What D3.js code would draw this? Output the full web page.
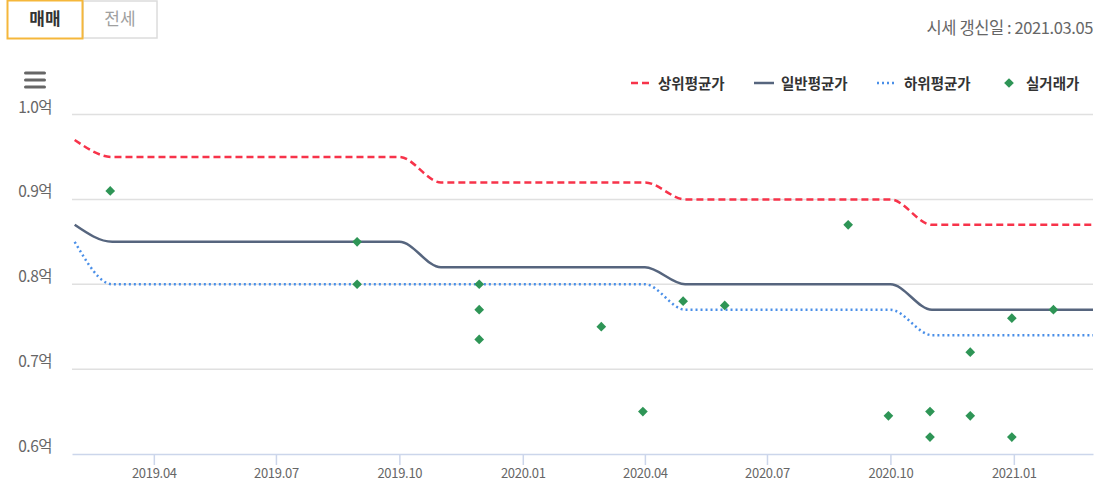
<!DOCTYPE html>
<html><head><meta charset="utf-8">
<script src="https://cdn.jsdelivr.net/npm/d3@7"></script>
<style>
html,body{margin:0;padding:0;background:#fff;}
svg{display:block;font-family:"Noto Sans CJK KR","Noto Sans",sans-serif;}
</style></head>
<body><svg id="c" width="1099" height="498"></svg>
<script>
// ---- data ----
const months = ["2019-02","2019-03","2019-04","2019-05","2019-06","2019-07","2019-08","2019-09","2019-10","2019-11","2019-12",
"2020-01","2020-02","2020-03","2020-04","2020-05","2020-06","2020-07","2020-08","2020-09","2020-10","2020-11","2020-12",
"2021-01","2021-02","2021-03"];
const upperAvg = [0.97,0.95,0.95,0.95,0.95,0.95,0.95,0.95,0.95,0.92,0.92,0.92,0.92,0.92,0.92,0.90,0.90,0.90,0.90,0.90,0.90,0.87,0.87,0.87,0.87,0.87];
const normalAvg = [0.87,0.85,0.85,0.85,0.85,0.85,0.85,0.85,0.85,0.82,0.82,0.82,0.82,0.82,0.82,0.80,0.80,0.80,0.80,0.80,0.80,0.77,0.77,0.77,0.77,0.77];
const lowerAvg = [0.85,0.80,0.80,0.80,0.80,0.80,0.80,0.80,0.80,0.80,0.80,0.80,0.80,0.80,0.80,0.77,0.77,0.77,0.77,0.77,0.77,0.74,0.74,0.74,0.74,0.74];
const tradeDates = ["2019-03","2019-09","2019-09","2019-12","2019-12","2019-12","2020-03","2020-04","2020-05","2020-06","2020-09","2020-10","2020-11","2020-11","2020-12","2020-12","2021-01","2021-01","2021-02"];
const tradeValues = [0.91,0.85,0.80,0.80,0.77,0.735,0.75,0.65,0.78,0.775,0.87,0.645,0.65,0.62,0.72,0.645,0.76,0.62,0.77];
const yTicks = [0.6,0.7,0.8,0.9,1.0];
const xTicks = ["2019-04","2019-07","2019-10","2020-01","2020-04","2020-07","2020-10","2021-01"];
const legendNames = ["상위평균가","일반평균가","하위평균가","실거래가"];
const tabs = ["매매","전세"];
const updateText = "시세 갱신일 : 2021.03.05";

// ---- setup ----
const parse = d3.timeParse("%Y-%m");
const svg = d3.select("#c");
const x = d3.scaleTime().domain([new Date(2019,0,30), new Date(2021,2,1)]).range([72,1093]);
const y = d3.scaleLinear().domain([0.6,1.0]).range([454,114.5]);

// tabs
const tabG = svg.append("g");
tabG.append("rect").attr("x",83).attr("y",1).attr("width",74).attr("height",37).attr("fill","#fff").attr("stroke","#dcdcdc").attr("stroke-width",1.5);
tabG.append("rect").attr("x",7.5).attr("y",0.5).attr("width",75).attr("height",38).attr("fill","#fff").attr("stroke","#f5b73b").attr("stroke-width",2);
tabG.append("text").attr("x",45).attr("y",25).attr("text-anchor","middle").attr("font-size",17).attr("font-weight","bold").attr("fill","#333").text(tabs[0]);
tabG.append("text").attr("x",120).attr("y",25).attr("text-anchor","middle").attr("font-size",17).attr("fill","#a0a0a0").text(tabs[1]);

svg.append("text").attr("x",1093).attr("y",34).attr("text-anchor","end").attr("font-size",16.5).attr("fill","#666").attr("letter-spacing","-0.4").text(updateText);

// hamburger
[73,80,87].forEach(yy=>svg.append("rect").attr("x",24).attr("y",yy-1.5).attr("width",22).attr("height",3).attr("rx",1.5).attr("fill","#666"));

// grid
svg.append("g").selectAll("line").data(yTicks.filter(d=>d>0.6)).join("line")
  .attr("x1",72).attr("x2",1093).attr("y1",d=>y(d)).attr("y2",d=>y(d))
  .attr("stroke","#e0e0e0").attr("stroke-width",1.5);

// y labels
svg.append("g").selectAll("text").data(yTicks).join("text")
  .attr("x",52).attr("y",d=>y(d)-2).attr("text-anchor","end").attr("font-size",15.5).attr("fill","#666")
  .attr("letter-spacing","-0.5")
  .text(d=>d.toFixed(1)+"억");

// x axis
const xa = svg.append("g").attr("transform","translate(0,454)")
  .call(d3.axisBottom(x).tickValues(xTicks.map(parse)).tickFormat(d3.timeFormat("%Y.%m")).tickSize(11).tickSizeOuter(0));
xa.select(".domain").attr("stroke","#ccd6eb").attr("stroke-width",1.5);
xa.selectAll(".tick line").attr("stroke","#ccd6eb").attr("stroke-width",1.5);
xa.selectAll(".tick text").attr("font-size",13).attr("fill","#666").attr("dy","1.0em").attr("y",11)
  .attr("font-family","\"Noto Sans CJK KR\",sans-serif").attr("letter-spacing","-0.3");

// lines
const dates = months.map(parse);
const line = d3.line().x((d,i)=>x(dates[i])).y(d=>y(d)).curve(d3.curveMonotoneX);
const series = [
  {v:upperAvg, c:"#f7334a", dash:"7,4", w:2.5},
  {v:normalAvg, c:"#56657e", dash:null, w:2.5},
  {v:lowerAvg, c:"#4a8fe8", dash:"2,3", w:2.5}
];
series.forEach(s=>{
  svg.append("path").datum(s.v).attr("d",line).attr("fill","none")
    .attr("stroke",s.c).attr("stroke-width",s.w).attr("stroke-dasharray",s.dash);
});

// scatter
const diamond = d3.symbol().type(d3.symbolDiamond2).size(60);
svg.append("g").selectAll("path").data(tradeValues).join("path")
  .attr("transform",(d,i)=>`translate(${x(parse(tradeDates[i]))-2},${y(d)})`)
  .attr("d",diamond).attr("fill","#2e9556");

// legend
const lg = svg.append("g").attr("font-size",14.5).attr("font-weight","bold").attr("fill","#333");
const lx = [631,754,877,999];
series.forEach((s,i)=>{
  lg.append("line").attr("x1",lx[i]).attr("x2",lx[i]+20).attr("y1",83).attr("y2",83)
    .attr("stroke",s.c).attr("stroke-width",2.5).attr("stroke-dasharray",s.dash);
});
lg.append("path").attr("transform",`translate(${lx[3]+10},83)`).attr("d",diamond).attr("fill","#2e9556");
legendNames.forEach((n,i)=>{
  lg.append("text").attr("x",lx[i]+27).attr("y",88.5).attr("fill","#333").text(n);
});
</script></body></html>
